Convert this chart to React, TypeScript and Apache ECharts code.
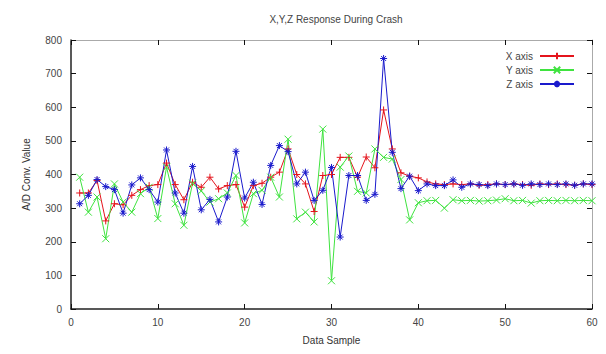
import React, { useEffect, useRef } from "react";
import * as echarts from "echarts";

const titleText = "X,Y,Z Response During Crash";
const xAxisName = "Data Sample";
const yAxisName = "A/D Conv. Value";
const seriesNames = ["X axis", "Y axis", "Z axis"];
const seriesColors = ["#e4141c", "#3fe33f", "#1a1acc"];

const xValues = [345,345,382,262,313,310,338,355,367,370,434,370,325,377,362,392,357,367,370,303,367,374,392,407,476,400,372,290,397,400,451,451,392,452,420,592,476,405,395,390,378,372,370,372,370,372,368,370,372,370,372,370,368,372,370,372,370,368,372,370];
const yValues = [392,288,333,209,372,318,288,343,362,269,422,313,249,374,351,318,328,345,397,256,343,353,392,333,505,268,288,259,535,84,422,455,350,345,476,451,446,385,265,316,322,323,300,325,322,323,321,322,324,328,322,323,315,322,323,322,323,322,323,322];
const zValues = [313,338,385,364,355,285,369,390,355,318,473,345,285,424,295,326,259,333,469,330,377,311,427,486,468,372,407,323,353,421,214,397,397,323,341,745,466,358,395,352,372,367,367,384,362,372,370,367,372,370,372,368,372,370,372,370,372,368,372,372];

const symbols = [
  "path://M0,5L10,5M5,0L5,10",
  "path://M0,0L10,10M10,0L0,10",
  "path://M0,5L10,5M5,0L5,10M1.5,1.5L8.5,8.5M8.5,1.5L1.5,8.5",
];

const FONT = "Liberation Sans, Arial, sans-serif";

export default function App() {
  const ref = useRef<HTMLDivElement>(null);
  useEffect(() => {
    if (!ref.current) return;
    const chart = echarts.init(ref.current, undefined, { renderer: "svg" });
    const all = [xValues, yValues, zValues];
    const series = all.map((vals, k) => ({
      name: seriesNames[k],
      type: "line",
      xAxisIndex: 0,
      yAxisIndex: 0,
      data: vals.map((v, i) => [i + 1, v]),
      symbol: symbols[k],
      symbolSize: 7,
      showAllSymbol: true,
      lineStyle: { color: seriesColors[k], width: 1 },
      itemStyle: { color: seriesColors[k], borderColor: seriesColors[k], borderWidth: 1 },
      emphasis: { disabled: true },
    }));
    const tick = { show: true, inside: true, length: 5, lineStyle: { color: "#111", width: 1 } };
    chart.setOption({
      animation: false,
      title: {
        text: titleText,
        left: 331,
        top: 9,
        textAlign: "center",
        textStyle: { fontFamily: FONT, fontSize: 10, fontWeight: "normal", color: "#444" },
      },
      legend: {
        orient: "vertical",
        right: 26,
        top: 46,
        align: "right",
        itemWidth: 34,
        itemHeight: 8,
        itemGap: 4,
        textStyle: { fontFamily: FONT, fontSize: 10, color: "#444", padding: [0, 2, 0, 0] },
        data: seriesNames,
      },
      grid: { left: 71, right: 14, top: 40, bottom: 45 },
      xAxis: [
        {
          type: "value",
          min: 0,
          max: 60,
          interval: 10,
          position: "bottom",
          splitLine: { show: false },
          axisTick: tick,
          name: xAxisName,
          nameLocation: "middle",
          nameGap: 26,
          nameTextStyle: { fontFamily: FONT, fontSize: 10, color: "#333" },
          axisLine: { show: true, onZero: false, lineStyle: { color: "#222", width: 1.5 } },
          axisLabel: { fontFamily: FONT, fontSize: 10, color: "#444", margin: 8 },
        },
        {
          type: "value",
          min: 0,
          max: 60,
          interval: 10,
          position: "top",
          splitLine: { show: false },
          axisTick: tick,
          axisLine: { show: true, onZero: false, lineStyle: { color: "#aaa", width: 1 } },
          axisLabel: { show: false },
        },
      ],
      yAxis: [
        {
          type: "value",
          min: 0,
          max: 800,
          interval: 100,
          position: "left",
          splitLine: { show: false },
          axisTick: tick,
          name: yAxisName,
          nameLocation: "middle",
          nameGap: 40,
          nameTextStyle: { fontFamily: FONT, fontSize: 10, color: "#333" },
          axisLine: { show: true, onZero: false, lineStyle: { color: "#222", width: 1.5 } },
          axisLabel: { fontFamily: FONT, fontSize: 10, color: "#444", margin: 9 },
        },
        {
          type: "value",
          min: 0,
          max: 800,
          interval: 100,
          position: "right",
          splitLine: { show: false },
          axisTick: tick,
          axisLine: { show: true, onZero: false, lineStyle: { color: "#aaa", width: 1 } },
          axisLabel: { show: false },
        },
      ],
      series,
    });
    return () => chart.dispose();
  }, []);
  return <div ref={ref} style={{ width: 606, height: 354, margin: -8, background: "#fff" }} />;
}
